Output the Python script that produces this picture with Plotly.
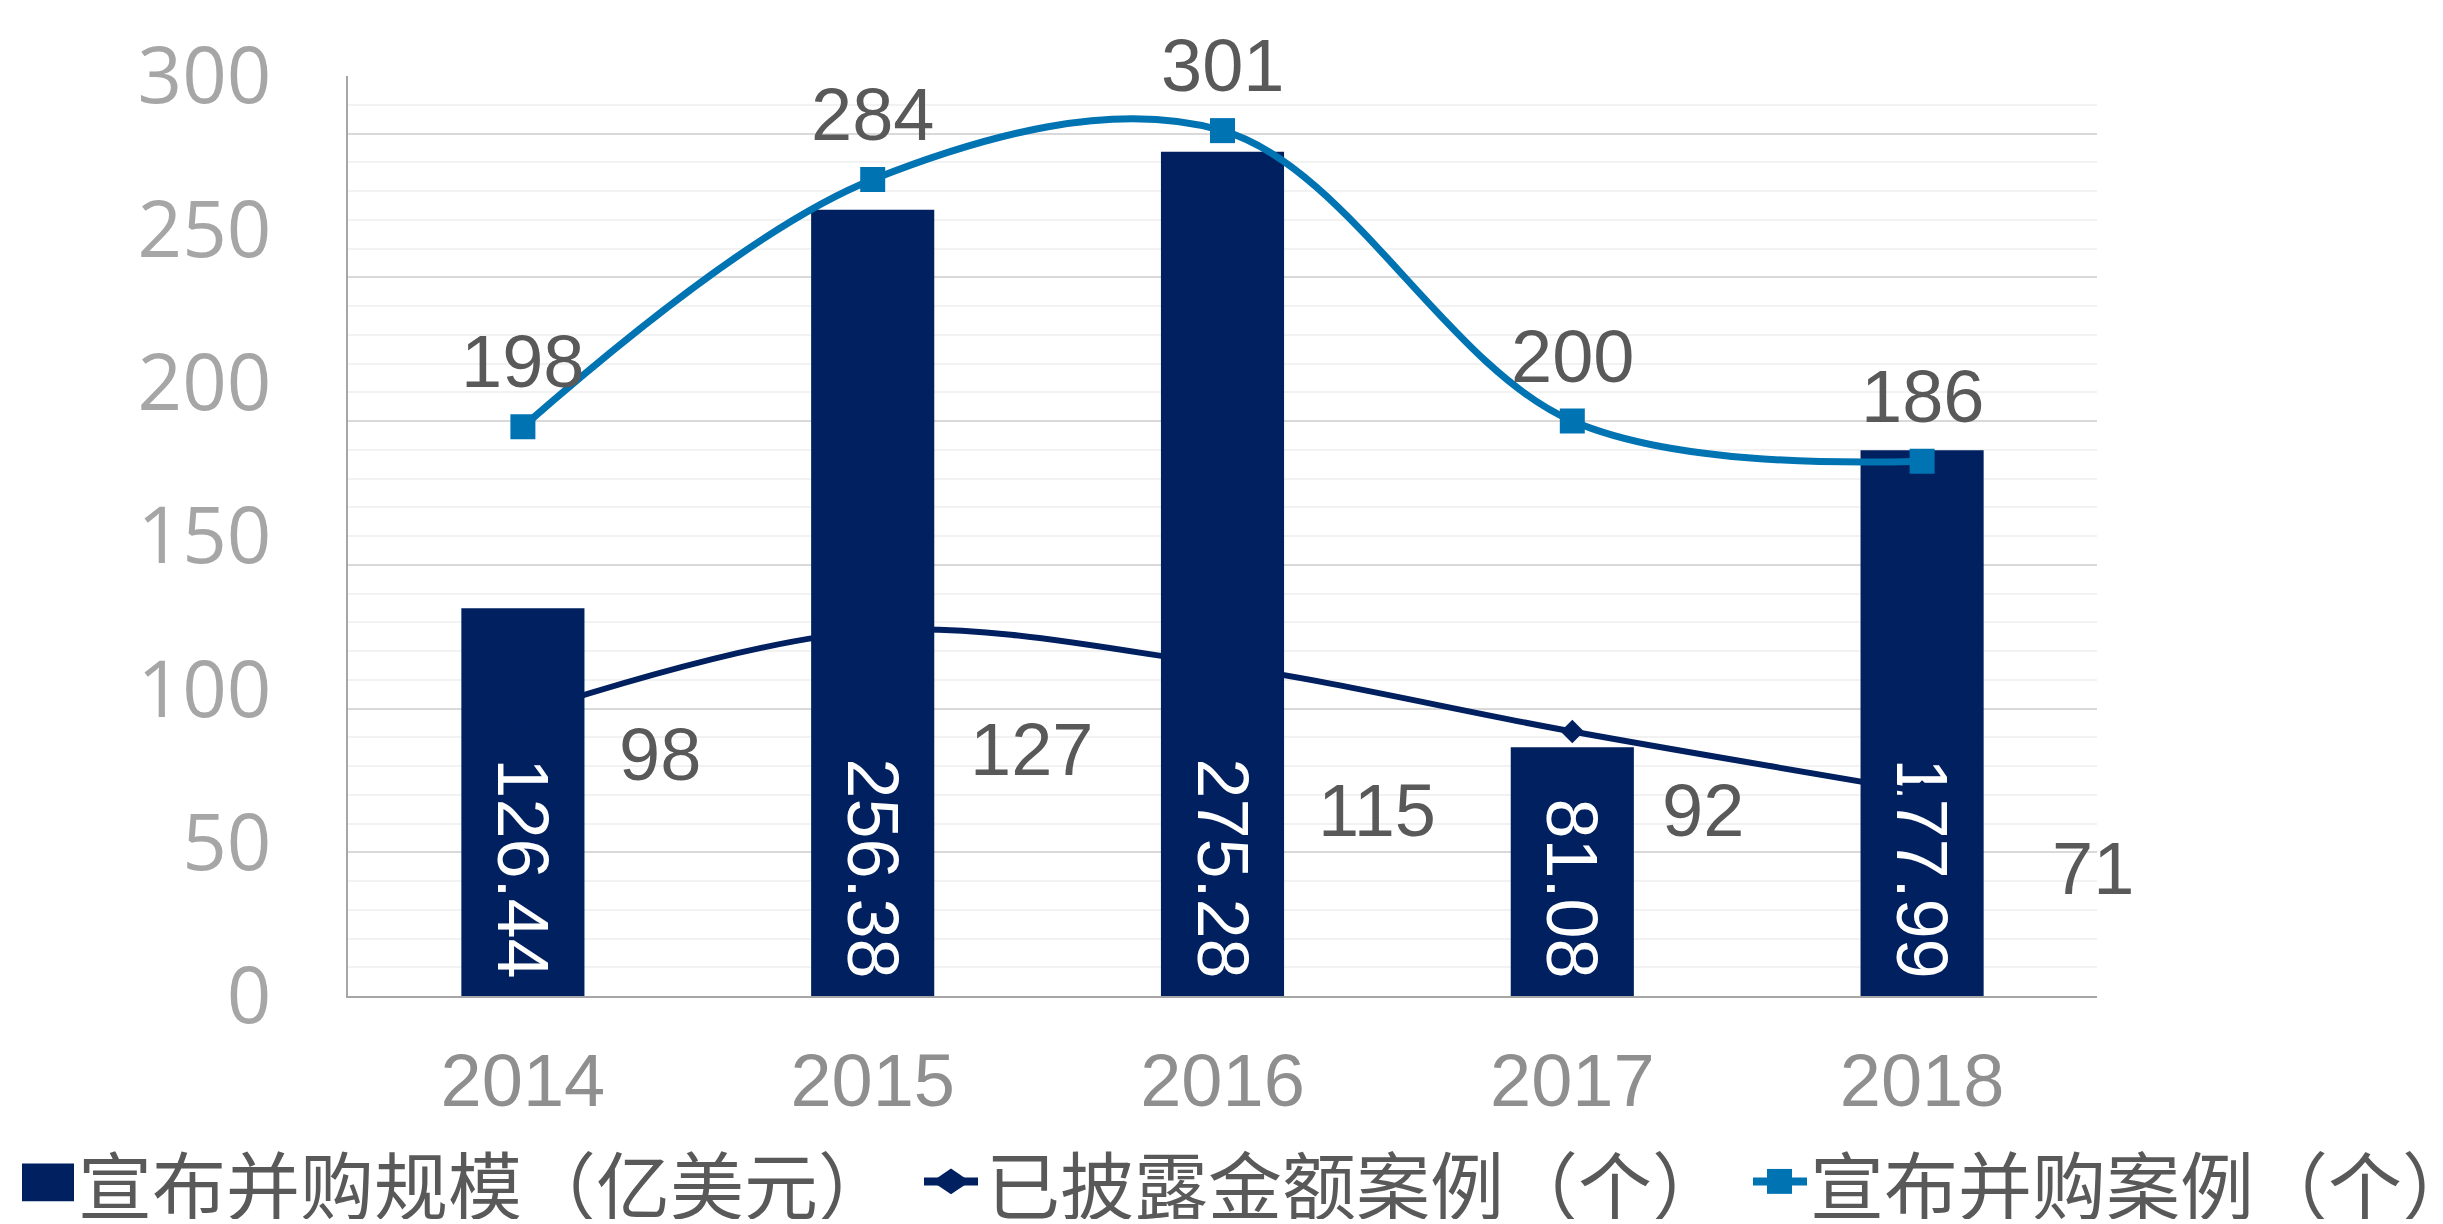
import plotly.graph_objects as go

# ---- data ----
years = ["2014", "2015", "2016", "2017", "2018"]
deal_scale = [126.44, 256.38, 275.28, 81.08, 177.99]      # 宣布并购规模（亿美元）
disclosed_cases = [98, 127, 115, 92, 71]                  # 已披露金额案例（个）
announced_cases = [198, 284, 301, 200, 186]               # 宣布并购案例（个）
y_ticks = [0, 50, 100, 150, 200, 250, 300]
series_names = ["宣布并购规模（亿美元）", "已披露金额案例（个）", "宣布并购案例（个）"]

# label placement (pixels) – style only
disclosed_dx = [137, 159, 154, 131, 171]
disclosed_dy = [-40, -119, -145, -79, -77]
announced_dy = 65

NAVY = "#002060"
BLUE = "#0073B3"
LABEL = "#595959"

W, H = 2443, 1224
PAGE_OFF = 8                      # default body margin of the html page
ML, MT = 348 - PAGE_OFF, 73 - PAGE_OFF
PW, PH = 1749, 923
MR, MB = W - ML - PW, H - MT - PH


def px(x):
    """page pixel x -> paper coordinate"""
    return (x - PAGE_OFF - ML) / PW


def py(y):
    """page pixel y -> paper coordinate"""
    return (MT + PH - (y - PAGE_OFF)) / PH


fig = go.Figure()

fig.add_trace(go.Bar(
    x=years, y=deal_scale, name=series_names[0],
    marker=dict(color=NAVY, line=dict(width=0)),
    text=[f"{v:.2f}\u2009" for v in deal_scale],
    textposition="inside", insidetextanchor="start", textangle=90,
    constraintext="none",
    textfont=dict(family="Liberation Sans, Arial", size=72, color="white"),
    yaxis="y", showlegend=False,
))

fig.add_trace(go.Scatter(
    x=years, y=disclosed_cases, name=series_names[1],
    mode="lines+markers", line=dict(color=NAVY, width=6, shape="spline"),
    marker=dict(symbol="diamond", size=18, color=NAVY),
    yaxis="y2", showlegend=False,
))

fig.add_trace(go.Scatter(
    x=years, y=announced_cases, name=series_names[2],
    mode="lines+markers", line=dict(color=BLUE, width=7, shape="spline"),
    marker=dict(symbol="square", size=25, color=BLUE),
    yaxis="y2", showlegend=False,
))

label_font = dict(family="Liberation Sans, Arial", size=74, color=LABEL)
annotations = []
for i, (v, dx, dy) in enumerate(zip(disclosed_cases, disclosed_dx, disclosed_dy)):
    annotations.append(dict(x=i, y=v, xref="x", yref="y2", text=str(v),
                            showarrow=False, xshift=dx, yshift=dy, font=label_font))
for i, v in enumerate(announced_cases):
    annotations.append(dict(x=i, y=v, xref="x", yref="y2", text=str(v),
                            showarrow=False, yshift=announced_dy, font=label_font))

# ---- custom legend (one row spanning the full width) ----
leg_y = 1182
leg_font = dict(family="Noto Sans CJK SC", size=74, color=LABEL)
text_x = [76, 984, 1808]
for name, tx in zip(series_names, text_x):
    annotations.append(dict(x=px(tx), y=py(leg_y), xref="paper", yref="paper",
                            text=name, showarrow=False, xanchor="left", yanchor="middle",
                            height=76, valign="middle", font=leg_font))

shapes = [
    # bar swatch
    dict(type="rect", xref="paper", yref="paper",
         x0=px(22), x1=px(74), y0=py(1202), y1=py(1164),
         fillcolor=NAVY, line=dict(width=0)),
    # disclosed line + diamond
    dict(type="line", xref="paper", yref="paper",
         x0=px(924), x1=px(978), y0=py(leg_y), y1=py(leg_y),
         line=dict(color=NAVY, width=8)),
    dict(type="path", xref="paper", yref="paper",
         path=f"M{px(932)},{py(leg_y)} L{px(951)},{py(leg_y - 13)} L{px(970)},{py(leg_y)} "
              f"L{px(951)},{py(leg_y + 13)} Z",
         fillcolor=NAVY, line=dict(width=0)),
    # announced line + square
    dict(type="line", xref="paper", yref="paper",
         x0=px(1753), x1=px(1807), y0=py(leg_y), y1=py(leg_y),
         line=dict(color=BLUE, width=8)),
    dict(type="rect", xref="paper", yref="paper",
         x0=px(1767), x1=px(1792), y0=py(leg_y + 12.5), y1=py(leg_y - 12.5),
         fillcolor=BLUE, line=dict(width=0)),
]

fig.update_layout(
    width=W, height=H,
    margin=dict(l=ML, r=MR, t=MT, b=MB),
    paper_bgcolor="white", plot_bgcolor="white",
    bargap=0.648,
    showlegend=False,
    xaxis=dict(type="category", range=[-0.5, 4.5], autorange=False,
               showline=True, linecolor="#A6A6A6", linewidth=2,
               showgrid=False, ticks="", ticklabelstandoff=19,
               tickfont=dict(family="Liberation Sans, Arial", size=74, color="#8F8F8F")),
    yaxis=dict(range=[0, 300], tickvals=y_ticks, showgrid=False, zeroline=False,
               showline=True, linecolor="#A6A6A6", linewidth=2, ticks="",
               ticklabelstandoff=59,
               tickfont=dict(family="Open Sans", size=78, color="#A6A6A6")),
    yaxis2=dict(range=[0, 320], overlaying="y", side="right", showticklabels=False,
                showgrid=True, gridcolor="#D9D9D9", gridwidth=2, dtick=50, tick0=0,
                zeroline=False, showline=False, ticks="",
                minor=dict(dtick=10, showgrid=True, gridcolor="#F2F2F2", gridwidth=2)),
    annotations=annotations,
    shapes=shapes,
)

fig.write_html("out.html")
